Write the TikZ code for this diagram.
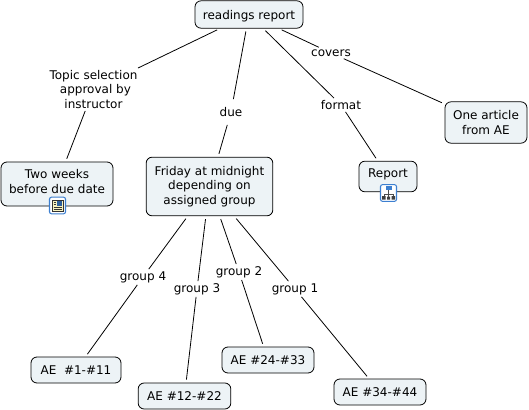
\documentclass[tikz,border=0pt]{standalone}
\usepackage{fontspec}
\setmainfont{DejaVu Sans}
\definecolor{boxfill}{HTML}{EDF3F6}
\definecolor{iconblue}{HTML}{3C7FD0}
\definecolor{paper}{HTML}{F7F3C0}
\tikzset{
  concept/.style={draw=black,fill=boxfill,rounded corners=4.5pt,line width=0.6pt,align=center,inner sep=0pt,font=\fontsize{9}{10.9}\selectfont},
  linklabel/.style={inner sep=1.5pt,align=center,font=\fontsize{9}{10.9}\selectfont},
  link/.style={draw=black,line width=0.6pt},
  fromconcept/.style={link,shorten <=2.25pt},
  toconcept/.style={link,shorten >=2.25pt},
  iconbox/.style={draw=iconblue,fill=white,rounded corners=1.5pt,line width=0.8pt,minimum width=12pt,minimum height=12.5pt,inner sep=0pt}
}
\begin{document}
\begin{tikzpicture}[x=0.75pt,y=-0.75pt]
\useasboundingbox (0,0) rectangle (529,410);
\node[concept,minimum width=81pt,minimum height=20.5pt,text height=9pt] (root) at (249,14.5) {readings report};
\node[concept,minimum width=84pt,minimum height=33pt,text depth=4pt] (two) at (57,184) {Two weeks\\before due date};
\node[concept,minimum width=95pt,minimum height=44pt] (fri) at (209.5,186.5) {Friday at midnight\\depending on\\assigned group};
\node[concept,minimum width=43.5pt,minimum height=23pt,text depth=5pt] (rep) at (388,176.5) {Report};
\node[concept,minimum width=61.5pt,minimum height=31pt] (art) at (486,122.5) {One article\\from AE};
\node[concept,minimum width=67.5pt,minimum height=19.5pt] (g1) at (76,370) {AE\ \ \#1-\#11};
\node[concept,minimum width=69.5pt,minimum height=19.5pt] (g2) at (184.5,396) {AE \#12-\#22};
\node[concept,minimum width=69pt,minimum height=19.5pt] (g3) at (268,360) {AE \#24-\#33};
\node[concept,minimum width=69pt,minimum height=19.5pt] (g4) at (380,392) {AE \#34-\#44};

\node[linklabel] (lt) at (93.5,89.5) {Topic selection\\\ approval by\\instructor};
\node[linklabel,inner ysep=6pt] (ld) at (231,112) {due};
\node[linklabel] (lf) at (341,105) {format};
\node[linklabel] (lc) at (331,53) {covers};
\node[linklabel] (l4) at (143,277) {group 4};
\node[linklabel] (l3) at (197,289) {group 3};
\node[linklabel] (l2) at (239,272) {group 2};
\node[linklabel] (l1) at (295,289) {group 1};

\draw[fromconcept] (root) -- (lt);
\draw[toconcept] (lt) -- (two);
\draw[fromconcept] (root) -- (ld);
\draw[toconcept] (ld) -- (fri);
\draw[fromconcept] (root) -- (lf);
\draw[toconcept] (lf) -- (rep);
\draw[fromconcept] (root) -- (lc);
\draw[toconcept] (lc) -- (art);
\draw[fromconcept] (fri) -- (l4);
\draw[toconcept] (l4) -- (g1);
\draw[fromconcept] (fri) -- (l3);
\draw[toconcept] (l3) -- (g2);
\draw[fromconcept] (fri) -- (l2);
\draw[toconcept] (l2) -- (g3);
\draw[fromconcept] (fri) -- (l1);
\draw[toconcept] (l1) -- (g4);

% resource icons
\node[iconbox] (ic1) at (57.5,205.5) {};
\fill[paper] (52,200) rectangle (63,211.5);
\draw[black!80,line width=0.4pt] (52,200) rectangle (63,211.5);
\fill[iconblue!75!black] (57,201) rectangle (62,205.5);
\draw[black!80,line width=0.4pt] (53.5,207.5) -- (61.5,207.5) (53.5,209.7) -- (61.5,209.7);
\draw[black!80,line width=0.4pt] (53.5,202.5) -- (56,202.5) (53.5,204.7) -- (56,204.7);

\node[iconbox] (ic2) at (388.5,193) {};
\draw[black!70,line width=0.4pt] (388.5,190) -- (388.5,197) (384,194) -- (393,194) (384,194) -- (384,196) (393,194) -- (393,196);
\fill[iconblue] (385.5,186.5) rectangle (391.5,190);
\fill[black!75] (382,196) rectangle (385.5,199.5) (387,196.5) rectangle (390,199.5) (391.5,196) rectangle (395,199.5);
\end{tikzpicture}
\end{document}
